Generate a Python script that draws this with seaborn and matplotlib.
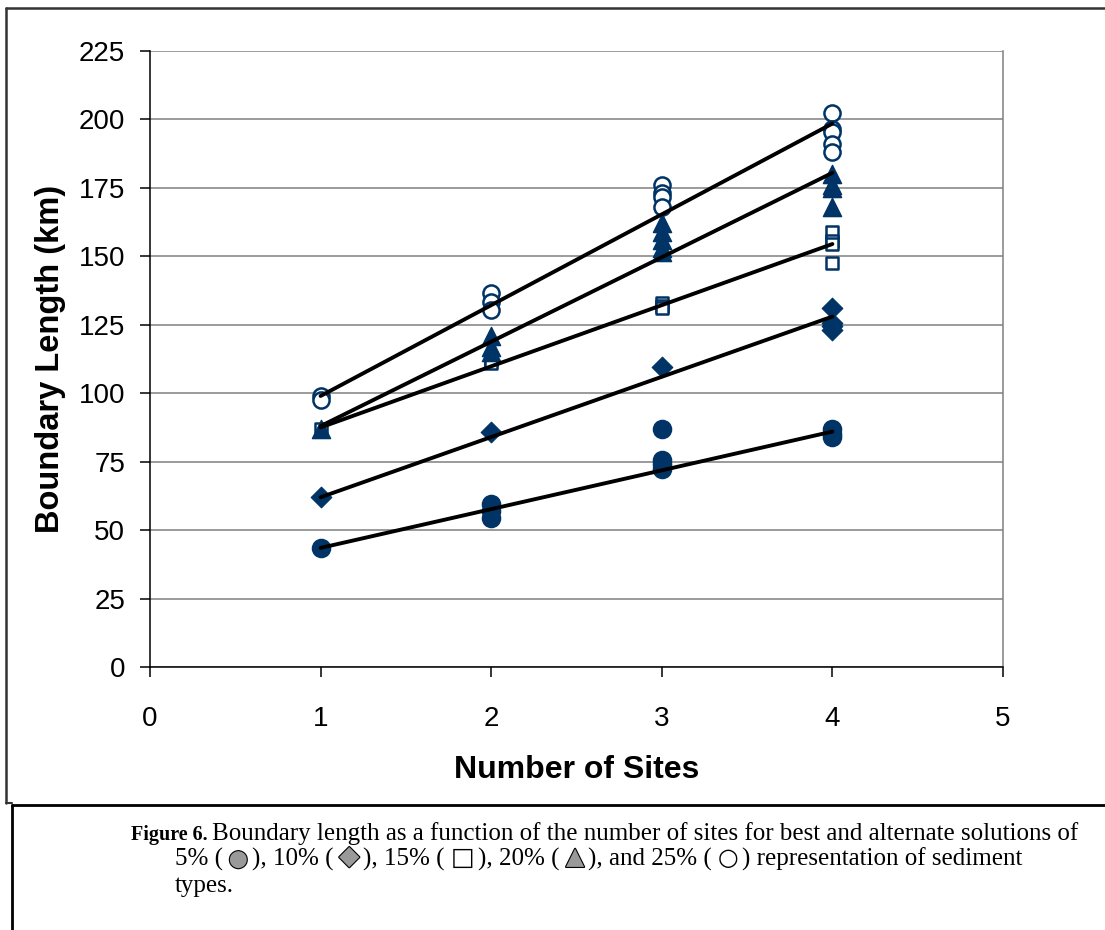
import numpy as np
import pandas as pd
import matplotlib
matplotlib.use('Agg')
import matplotlib.pyplot as plt
import matplotlib.patheffects as pe
import seaborn as sns

# values (boundary length, km) per number of sites
sites_5 = [1, 2, 2, 2, 3, 3, 3, 3, 4, 4, 4]
len_5 = [43.5, 59.5, 57, 54.5, 87, 75.5, 74, 72.5, 87, 85, 84]

sites_10 = [1, 2, 3, 4, 4, 4, 4]
len_10 = [62, 86, 109.5, 131, 125.5, 124.5, 123]

sites_15 = [1, 2, 2, 2, 3, 3, 3, 4, 4, 4, 4]
len_15 = [87, 113, 112, 111, 133, 132, 131, 159, 155.5, 154.5, 147.5]

sites_20 = [1, 2, 2, 2, 3, 3, 3, 3, 3, 4, 4, 4, 4]
len_20 = [87, 121, 117, 115, 162, 159, 156, 153, 151.5, 180, 176, 175, 168]

sites_25 = [1, 1, 2, 2, 2, 3, 3, 3, 3, 4, 4, 4, 4, 4]
len_25 = [99, 97.5, 136.5, 133.5, 130.5, 176, 173, 171.5, 168, 202.5, 196.5, 195.5, 191, 188]

# trend lines (start at 1 site, end at 4 sites)
trend_x = [1, 4]
trend_5 = [43.5, 86]
trend_10 = [62, 128]
trend_15 = [87.5, 154.5]
trend_20 = [88, 180.5]
trend_25 = [99, 198.5]

navy = '#003366'

sns.set_style('white')
plt.rcParams['font.family'] = ['Liberation Sans', 'DejaVu Sans']
plt.rcParams['text.color'] = 'black'
plt.rcParams['axes.labelcolor'] = 'black'
plt.rcParams['xtick.color'] = 'black'
plt.rcParams['ytick.color'] = 'black'

fig = plt.figure(figsize=(11.05, 9.3), dpi=100)
ax = fig.add_axes([150 / 1105, 1 - 667 / 930, (1003 - 150) / 1105, (667 - 51) / 930])

# scatter series
sns.scatterplot(x=sites_5, y=len_5, ax=ax, marker='o', s=170, color=navy, edgecolor=navy, zorder=3)
sns.scatterplot(x=sites_10, y=len_10, ax=ax, marker='D', s=110, color=navy, edgecolor=navy, zorder=3)
sns.scatterplot(x=sites_15, y=len_15, ax=ax, marker='s', s=75, facecolor='white', edgecolor=navy,
                linewidth=1.8, zorder=3)
sns.scatterplot(x=sites_20, y=len_20, ax=ax, marker='^', s=170, color=navy, edgecolor=navy, zorder=3)
sns.scatterplot(x=sites_25, y=len_25, ax=ax, marker='o', s=135, facecolor='white', edgecolor=navy,
                linewidth=1.8, zorder=3)

# trend lines on top
for tr in [trend_5, trend_10, trend_15, trend_20, trend_25]:
    sns.lineplot(x=trend_x, y=tr, ax=ax, color='black', linewidth=2.8, zorder=4)

ax.set_xlim(0, 5)
ax.set_ylim(0, 225)
ax.set_xticks(range(0, 6))
ax.set_yticks(range(0, 226, 25))
ax.yaxis.grid(True, color='#808080', linewidth=1.1)
ax.set_axisbelow(True)
ax.spines['top'].set_visible(False)
ax.spines['right'].set_color('#808080')
ax.spines['right'].set_linewidth(1.1)
for side in ['left', 'bottom']:
    ax.spines[side].set_color('black')
    ax.spines[side].set_linewidth(1.1)
ax.tick_params(axis='both', labelsize=20, direction='out', length=7, width=1.1, color='black',
               labelcolor='black', left=True, bottom=True)
ax.tick_params(axis='y', pad=11)
ax.tick_params(axis='x', pad=21)

ax.set_xlabel('Number of Sites', fontsize=23, fontweight='bold', labelpad=17)
ax.set_ylabel('Boundary Length (km)', fontsize=23.5, fontweight='bold', labelpad=9)

# frame around the chart and caption box
fig.add_artist(plt.Line2D([6 / 1105, 6 / 1105], [1 - 803 / 930, 1 - 8 / 930], color='#333333', lw=1.8))
fig.add_artist(plt.Line2D([6 / 1105, 1.0], [1 - 8 / 930, 1 - 8 / 930], color='#333333', lw=1.8))
fig.add_artist(plt.Line2D([6 / 1105, 12 / 1105], [1 - 803 / 930, 1 - 803 / 930], color='#333333', lw=1.5))
fig.add_artist(plt.Line2D([12 / 1105, 1.0], [1 - 805 / 930, 1 - 805 / 930], color='black', lw=2))
fig.add_artist(plt.Line2D([12 / 1105, 12 / 1105], [0, 1 - 805 / 930], color='black', lw=2))

# caption
serif = ['Liberation Serif', 'DejaVu Sans']
cap_size = 18
fig.text(131 / 1105, 1 - 840 / 930, 'Figure 6.', family=serif, fontsize=14.5, fontweight='bold',
         va='baseline')
fig.text(212 / 1105, 1 - 840 / 930,
         'Boundary length as a function of the number of sites for best and alternate solutions of',
         family=serif, fontsize=cap_size, va='baseline')
fig.text(175 / 1105, 1 - 892 / 930, 'types.', family=serif, fontsize=cap_size, va='baseline')

# second caption line, with the marker symbols drawn as glyphs
segments = [('5% (', None, 0), ('\u2B24', 'gray', 12), ('), 10% (', None, 0), ('\u25C6', 'gray', 19),
            ('), 15% (', None, 0), ('\u25A1', 'black', 18), ('), 20% (', None, 0), ('\u25B2', 'gray', 17),
            ('), and 25% (', None, 0), ('\u25CB', 'black', 17), (') representation of sediment', None, 0)]
renderer = fig.canvas.get_renderer()
xpos = 175 / 1105
base = 1 - 866 / 930
for txt, col, sz in segments:
    if col is None:
        t = fig.text(xpos, base, txt, family=serif, fontsize=cap_size, va='baseline')
        gap = 3
    elif col == 'gray':
        t = fig.text(xpos + 3 / 1105, base + 2 / 930, txt, family=['DejaVu Sans'], fontsize=sz,
                     va='baseline', color='#999999',
                     path_effects=[pe.withStroke(linewidth=1.6, foreground='black')])
        gap = 4
    else:
        t = fig.text(xpos + 3 / 1105, base + 1 / 930, txt, family=['DejaVu Sans'], fontsize=sz,
                     va='baseline', color='black')
        gap = 4
    bb = t.get_window_extent(renderer)
    xpos = bb.x1 / fig.bbox.width + gap / 1105

fig.savefig('out.png', dpi=100)
